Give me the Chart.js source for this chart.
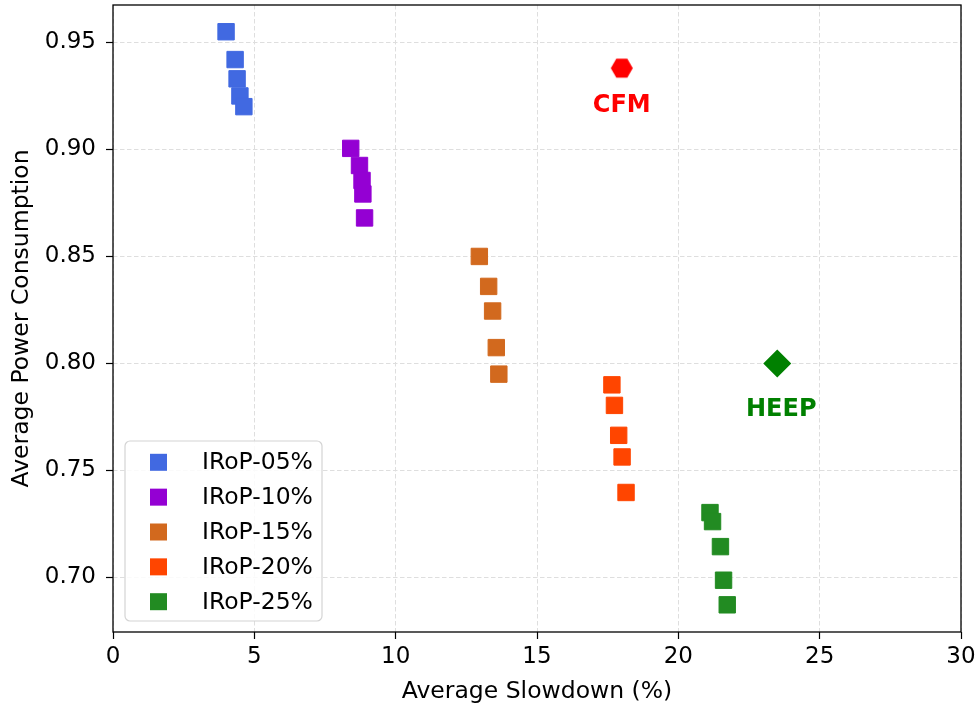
<!DOCTYPE html>
<html>
<head>
<meta charset="utf-8">
<script src="https://cdn.jsdelivr.net/npm/chart.js@4.4.1/dist/chart.umd.min.js"></script>
<style>
html,body{margin:0;padding:0;background:#fff;}
#wrap{width:979px;height:711px;position:relative;}
</style>
</head>
<body>
<div id="wrap"><canvas id="c" width="979" height="711"></canvas></div>
<script>
// ---- data ----
const seriesNames = ['IRoP-05%', 'IRoP-10%', 'IRoP-15%', 'IRoP-20%', 'IRoP-25%'];
const seriesColors = ['#4169E1', '#9400D3', '#D2691E', '#FF4500', '#228B22'];
const irop05X = [4.00, 4.32, 4.39, 4.49, 4.63];
const irop05Y = [0.955, 0.942, 0.933, 0.925, 0.920];
const irop10X = [8.41, 8.72, 8.81, 8.84, 8.90];
const irop10Y = [0.9005, 0.8925, 0.8855, 0.8792, 0.868];
const irop15X = [12.96, 13.29, 13.43, 13.56, 13.65];
const irop15Y = [0.850, 0.836, 0.8245, 0.8074, 0.795];
const irop20X = [17.65, 17.74, 17.89, 18.01, 18.15];
const irop20Y = [0.790, 0.7804, 0.7664, 0.7563, 0.7397];
const irop25X = [21.12, 21.21, 21.49, 21.60, 21.73];
const irop25Y = [0.7303, 0.7261, 0.7144, 0.6987, 0.6872];
const cfmPoint = {x: 18.0, y: 0.938};
const heepPoint = {x: 23.5, y: 0.800};
const xTicks = [0, 5, 10, 15, 20, 25, 30];
const yTicks = [0.70, 0.75, 0.80, 0.85, 0.90, 0.95];
const xTitle = 'Average Slowdown (%)';
const yTitle = 'Average Power Consumption';

const seriesX = [irop05X, irop10X, irop15X, irop20X, irop25X];
const seriesY = [irop05Y, irop10Y, irop15Y, irop20Y, irop25Y];

const FONT = "'DejaVu Sans', sans-serif";

// hexagon marker (flat top)
function makeHex(r, color) {
  const c = document.createElement('canvas');
  const s = Math.ceil(2 * r + 2);
  c.width = s; c.height = s;
  const g = c.getContext('2d');
  g.fillStyle = color;
  g.beginPath();
  for (let i = 0; i < 6; i++) {
    const a = Math.PI / 3 * i;
    const px = s / 2 + r * Math.cos(a), py = s / 2 + r * Math.sin(a);
    if (i === 0) g.moveTo(px, py); else g.lineTo(px, py);
  }
  g.closePath(); g.fill();
  return c;
}
const hexImg = makeHex(11, '#FF0000');

const datasets = seriesNames.map((name, i) => ({
  label: name,
  data: seriesX[i].map((x, j) => ({x: x, y: seriesY[i][j]})),
  pointStyle: 'rect',
  pointRadius: 11.6,
  pointBorderWidth: 1,
  backgroundColor: seriesColors[i],
  borderColor: seriesColors[i],
  showLine: false,
  inLegend: true
}));
datasets.push({
  label: 'CFM', data: [cfmPoint], pointStyle: hexImg, pointRadius: 11,
  backgroundColor: '#FF0000', borderColor: '#FF0000', showLine: false,
  annot: {text: 'CFM', color: '#FF0000', dy: 38}
});
datasets.push({
  label: 'HEEP', data: [heepPoint], pointStyle: 'rectRot', pointRadius: 14,
  pointBorderWidth: 0, backgroundColor: '#008000', borderColor: '#008000', showLine: false,
  annot: {text: 'HEEP', color: '#008000', dy: 46, dx: 4}
});

const framePlugin = {
  id: 'frame',
  afterDatasetsDraw(chart) {
    const {ctx, chartArea: a} = chart;
    ctx.save();
    // annotations
    chart.data.datasets.forEach((ds, i) => {
      if (!ds.annot) return;
      const p = ds.data[0];
      const px = chart.scales.x.getPixelForValue(p.x) + (ds.annot.dx || 0);
      const py = chart.scales.y.getPixelForValue(p.y) + ds.annot.dy;
      ctx.font = "bold 24px " + FONT;
      ctx.fillStyle = ds.annot.color;
      ctx.textAlign = 'center';
      ctx.textBaseline = 'middle';
      ctx.fillText(ds.annot.text, px, py);
    });
    // legend
    const items = chart.data.datasets.filter(d => d.inLegend);
    const lx = 125, ly = 441, lw = 197, lh = 180, r = 5;
    ctx.beginPath();
    ctx.moveTo(lx + r, ly);
    ctx.arcTo(lx + lw, ly, lx + lw, ly + lh, r);
    ctx.arcTo(lx + lw, ly + lh, lx, ly + lh, r);
    ctx.arcTo(lx, ly + lh, lx, ly, r);
    ctx.arcTo(lx, ly, lx + lw, ly, r);
    ctx.closePath();
    ctx.fillStyle = 'rgba(255,255,255,0.85)';
    ctx.fill();
    ctx.strokeStyle = '#d4d4d4';
    ctx.lineWidth = 1.2;
    ctx.stroke();
    items.forEach((d, k) => {
      const cy = 462.3 + k * 34.85;
      ctx.fillStyle = d.backgroundColor;
      ctx.fillRect(158.5 - 8.5, cy - 8.5, 17, 17);
      ctx.fillStyle = '#000';
      ctx.font = "23.5px " + FONT;
      ctx.textAlign = 'left';
      ctx.textBaseline = 'middle';
      ctx.fillText(d.label, 202, cy + 1);
    });
    // frame
    ctx.strokeStyle = '#000';
    ctx.lineWidth = 1.3;
    ctx.strokeRect(a.left, a.top, a.right - a.left, a.bottom - a.top);
    ctx.restore();
  }
};

new Chart(document.getElementById('c'), {
  type: 'scatter',
  data: {datasets: datasets},
  plugins: [framePlugin],
  options: {
    responsive: false,
    animation: false,
    devicePixelRatio: 1,
    layout: {autoPadding: false, padding: {left: 0, top: 5, right: 18, bottom: 0}},
    plugins: {legend: {display: false}, tooltip: {enabled: false}},
    scales: {
      x: {
        type: 'linear', min: 0, max: 30,
        afterBuildTicks: s => { s.ticks = xTicks.map(v => ({value: v})); },
        afterFit: s => { s.height = 79; s.paddingLeft = 0; s.paddingRight = 0; },
        grid: {color: '#dedede', lineWidth: 1, tickColor: '#000', tickWidth: 1.2, tickLength: 7, tickBorderDash: []},
        border: {display: false, dash: [4.5, 2.5]},
        ticks: {color: '#000', font: {family: FONT, size: 23}, padding: 4, maxRotation: 0,
                callback: v => String(v)},
        title: {display: true, text: xTitle, color: '#000', font: {family: FONT, size: 23.5},
                padding: {top: 0, bottom: 5}}
      },
      y: {
        type: 'linear', min: 0.6745, max: 0.9675,
        afterBuildTicks: s => { s.ticks = yTicks.map(v => ({value: v})); },
        afterFit: s => { s.width = 113; s.paddingTop = 0; s.paddingBottom = 0; },
        grid: {color: '#dedede', lineWidth: 1, tickColor: '#000', tickWidth: 1.2, tickLength: 7, tickBorderDash: []},
        border: {display: false, dash: [4.5, 2.5]},
        ticks: {color: '#000', font: {family: FONT, size: 23}, padding: 10,
                callback: v => Number(v).toFixed(2)},
        title: {display: true, text: yTitle, color: '#000', font: {family: FONT, size: 23.5},
                padding: {top: 8, bottom: 0}}
      }
    }
  }
});
</script>
</body>
</html>
